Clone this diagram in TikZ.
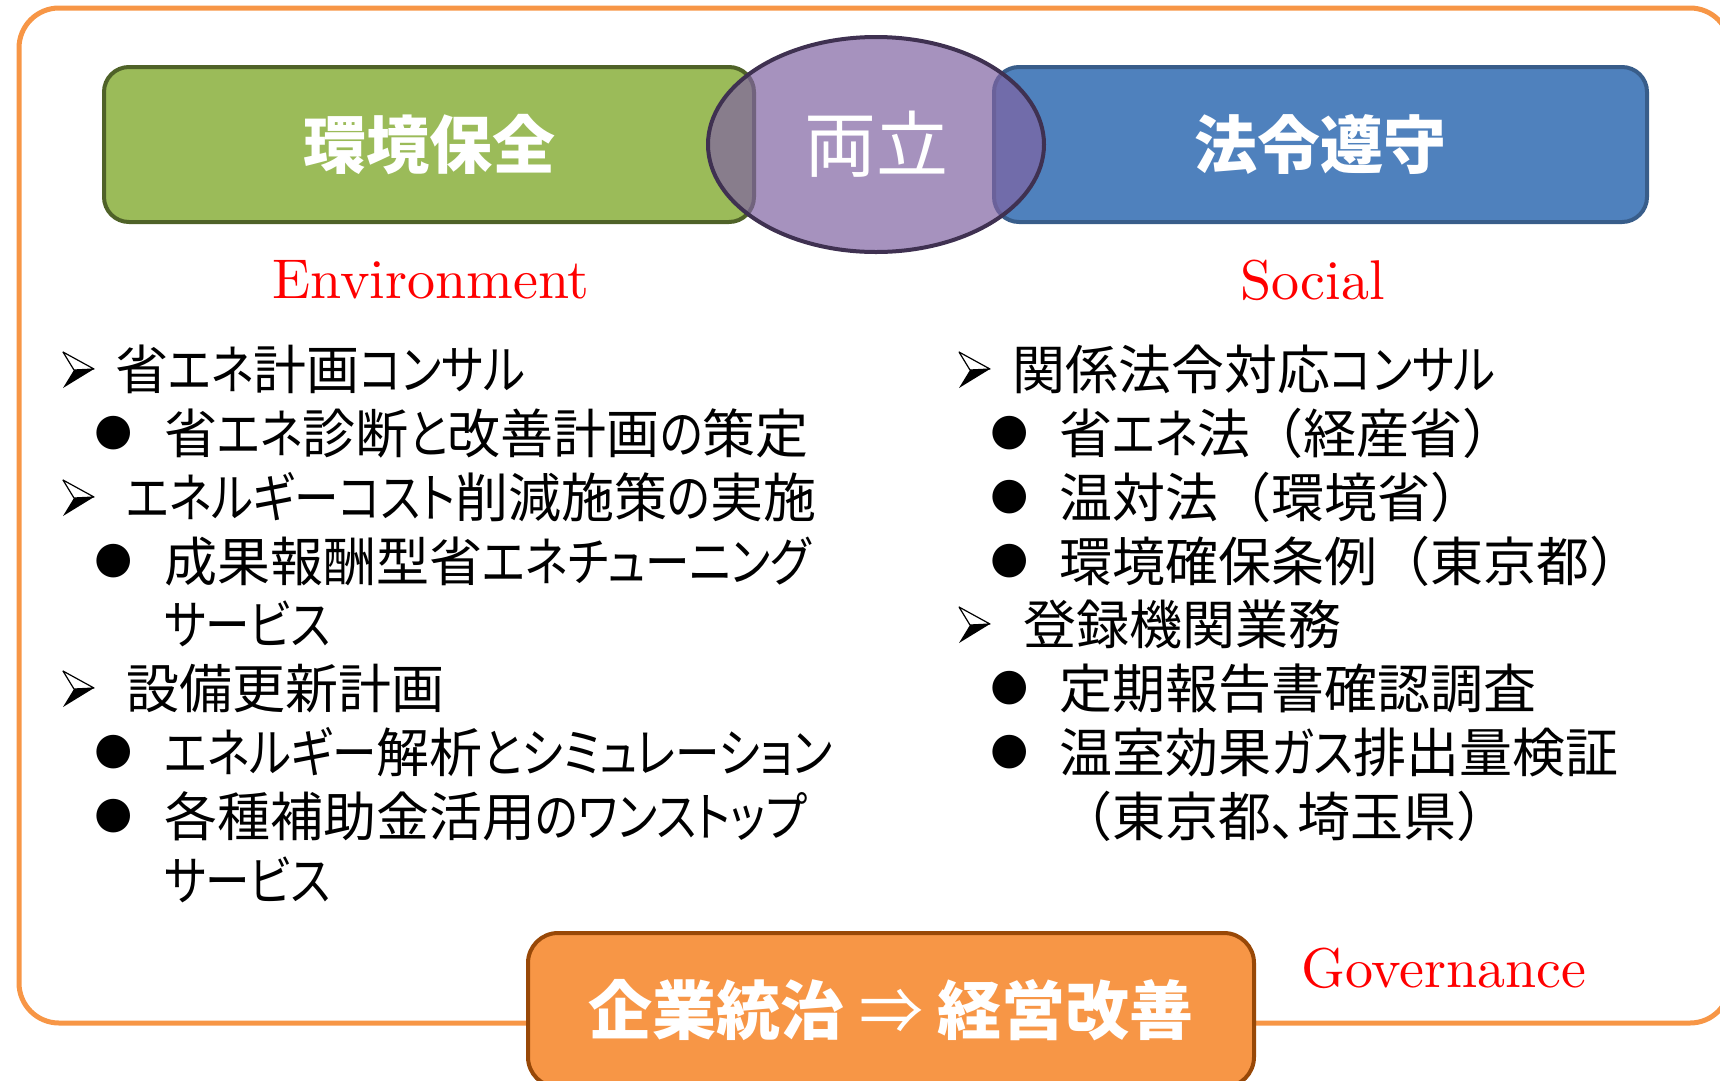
\documentclass[tikz,border=0pt]{standalone}
\usepackage{fontspec}
\usetikzlibrary{positioning,shapes.geometric}

\newfontfamily\jpfont[RawFeature=+palt]{Noto Sans CJK JP}
\newfontfamily\jpwide{Noto Sans CJK JP}
\newfontfamily\kanafont[RawFeature=+palt, FakeStretch=0.84]{Noto Sans CJK JP}
\newfontfamily\tagfont{lmroman10-regular.otf}
\newcommand{\fw}[1]{{\jpwide #1}}
\newcommand{\kn}[1]{{\kanafont #1}}

\definecolor{frameorange}{HTML}{F79646}
\definecolor{govline}{HTML}{984807}
\definecolor{envgreen}{HTML}{9BBB59}
\definecolor{envline}{HTML}{4F6228}
\definecolor{lawblue}{HTML}{4F81BD}
\definecolor{lawline}{HTML}{385D8A}
\definecolor{bothfill}{HTML}{8064A2}
\definecolor{bothline}{HTML}{3F3151}

\tikzset{
  frame/.style={draw=frameorange, line width=5pt, rounded corners=40pt},
  topbox/.style={rectangle, rounded corners=25pt, line width=4pt,
    minimum height=155pt, text=white,
    font=\jpfont\bfseries\fontsize{63}{70}\selectfont},
  envbox/.style={topbox, fill=envgreen, draw=envline, minimum width=650pt},
  lawbox/.style={topbox, fill=lawblue, draw=lawline, minimum width=653pt},
  bothbox/.style={ellipse, line width=4pt, draw=bothline, fill=bothfill,
    fill opacity=0.7, text opacity=1, text=white,
    minimum width=336pt, minimum height=215pt,
    font=\jpfont\fontsize{72}{80}\selectfont},
  govbox/.style={rectangle, rounded corners=30pt, line width=4pt,
    fill=frameorange, draw=govline, text=white,
    minimum width=726pt, minimum height=154pt,
    font=\jpfont\bfseries\fontsize{64}{70}\selectfont},
  tag/.style={text=red, inner sep=0pt, font=\tagfont\fontsize{56}{60}\selectfont},
  item/.style={anchor=west, inner sep=0pt, text height=47pt, text depth=6pt,
    font=\jpfont\fontsize{53}{60}\selectfont},
  ball/.style={inner sep=0pt, font=\fontspec{DejaVu Sans}\fontsize{44}{46}\selectfont},
  pointer/.pic={
    \filldraw[fill=white, draw=black, line width=1.2pt, line join=round]
      (-15,-17) -- (16,0) -- (-4,1) -- cycle;
    \fill[black] (-4,1) -- (16,0) -- (-15,19) -- cycle;
  }
}

\begin{document}
\begin{tikzpicture}[x=1pt, y=-1pt]

  \path[use as bounding box] (0,0) rectangle (1720,1080);
  \clip (0,0) rectangle (1720,1080);

  % Outer frame
  \draw[frame] (19,8) rectangle (1730,1023);

  % Headline boxes
  \node[envbox]  (env)  at (429,144.5)    {環境保全};
  \node[lawbox]  (law)  at (1320.5,144.5) {法令遵守};
  \node[bothbox] (both) at (876,144.5)    {両立};

  \node[tag, below=36pt of env, xshift=2pt] (envtag) {Environment};
  \node[tag, below=36pt of law, xshift=-8pt] (soctag) {Social};

  % Left column
  \pic (ep1) at (78,369) {pointer};
  \node[item] (e1)  at (115,369) {省\kn{エネ}計画\kn{コンサル}};
  \node[ball] (eb1) at (114,433) {●};
  \node[item] (e2)  at (164,433) {省\kn{エネ}診断\kn{と}改善計画\kn{の}策定};
  \pic (ep2) at (78,497) {pointer};
  \node[item] (e3)  at (126,497) {\kn{エネルギーコスト}削減施策\kn{の}実施};
  \node[ball] (eb2) at (114,561) {●};
  \node[item] (e4)  at (164,561) {成果報酬型省\kn{エネチューニング}};
  \node[item] (e5)  at (164,624) {\kn{サービス}};
  \pic (ep3) at (78,688) {pointer};
  \node[item] (e6)  at (126,688) {設備更新計画};
  \node[ball] (eb3) at (114,752) {●};
  \node[item] (e7)  at (164,752) {\kn{エネルギー}解析\kn{とシミュレーション}};
  \node[ball] (eb4) at (114,816) {●};
  \node[item] (e8)  at (164,816) {各種補助金活用\kn{のワンストップ}};
  \node[item] (e9)  at (164,880) {\kn{サービス}};

  % Right column
  \pic (sp1) at (974,369) {pointer};
  \node[item] (s1)  at (1012,369) {関係法令対応\kn{コンサル}};
  \node[ball] (sb1) at (1010,433) {●};
  \node[item] (s2)  at (1059,433) {省\kn{エネ}法\fw{（経産省）}};
  \node[ball] (sb2) at (1010,497) {●};
  \node[item] (s3)  at (1059,497) {温対法\fw{（環境省）}};
  \node[ball] (sb3) at (1010,561) {●};
  \node[item] (s4)  at (1059,561) {環境確保条例\fw{（東京都）}};
  \pic (sp2) at (974,624) {pointer};
  \node[item] (s5)  at (1023,624) {登録機関業務};
  \node[ball] (sb4) at (1010,688) {●};
  \node[item] (s6)  at (1059,688) {定期報告書確認調査};
  \node[ball] (sb5) at (1010,752) {●};
  \node[item] (s7)  at (1059,752) {温室効果\kn{ガス}排出量検証};
  \node[item] (s8)  at (1059,816) {\fw{（}東京都、埼玉県\fw{）}};

  % Governance
  \node[govbox] (gov) at (891,1010) {企業統治 {\mdseries ⇒} 経営改善};
  \node[tag, anchor=base west] (govtag) at (1301,987) {Governance};

\end{tikzpicture}
\end{document}
